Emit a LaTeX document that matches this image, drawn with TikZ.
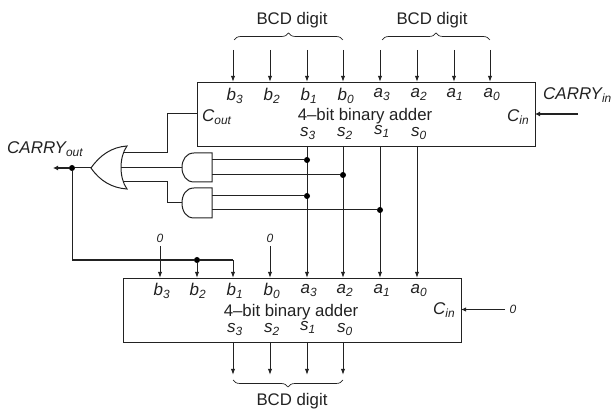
\documentclass[tikz,border=0pt]{standalone}
\usepackage{fontspec}
\setmainfont{Liberation Sans}
\usetikzlibrary{arrows.meta,decorations.pathreplacing}
\definecolor{ink}{HTML}{222222}
\tikzset{
  wire/.style={draw=ink,line width=1pt},
  heavy/.style={draw=ink,line width=1pt},
  sig/.style={wire,-{Latex[length=6pt,width=4.2pt]}},
  hsig/.style={draw=ink,line width=2.2pt,-{Latex[length=5pt,width=5pt]}},
  adder/.style={draw=ink,line width=1pt,rectangle,inner sep=0pt,anchor=north west,minimum width=338pt,minimum height=64pt},
  gate/.style={draw=ink,line width=1pt,fill=white},
  dot/.style={circle,fill=black,inner sep=0pt,minimum size=6pt},
  txt/.style={inner sep=0pt,anchor=base,text=ink,font=\fontsize{16.8}{17}\selectfont},
  pin/.style={inner sep=0pt,anchor=base,text=ink,font=\fontsize{17}{17}\selectfont\itshape},
  zero/.style={inner sep=0pt,text=ink,font=\fontsize{12}{12}\selectfont\itshape},
  lbl/.style={inner sep=0pt,anchor=base west,text=ink,font=\fontsize{17}{17}\selectfont\itshape},
  bracetop/.style={draw=ink,line width=0.7pt,decorate,decoration={brace,amplitude=7pt}},
}
\newcommand{\sbs}[2]{#1$\mathsurround=0pt{}_{\mathit{#2}}$}
\begin{document}
\begin{tikzpicture}[x=1pt,y=-1pt]
\useasboundingbox (0,0) rectangle (611,411);
\node[adder] (top) at (197,82) {};
\node[adder] (bot) at (123,278) {};

% top inputs
\foreach \n/\x in {tb3/233,tb2/270,tb1/307,tb0/343,ta3/380,ta2/417,ta1/454,ta0/490}{
  \coordinate (\n s) at (\x,50);
  \coordinate (\n e) at (\x,82);
  \draw[sig] (\n s) -- (\n e);
}
% bottom inputs
\coordinate (bb3e) at (160,278);
\coordinate (bb2e) at (197,278);
\coordinate (bb1e) at (233,278);
\coordinate (bb0e) at (270,278);
\coordinate (ba3e) at (307,278);
\coordinate (ba2e) at (343,278);
\coordinate (ba1e) at (380,278);
\coordinate (ba0e) at (417,278);
% top outputs
\coordinate (ts3) at (307,146);
\coordinate (ts2) at (343,146);
\coordinate (ts1) at (380,146);
\coordinate (ts0) at (417,146);
\draw[sig] (ts3) -- (ba3e);
\draw[sig] (ts2) -- (ba2e);
\draw[sig] (ts1) -- (ba1e);
\draw[sig] (ts0) -- (ba0e);
% bottom outputs
\foreach \n/\x in {bs3/233,bs2/270,bs1/307,bs0/343}{
  \coordinate (\n a) at (\x,342);
  \coordinate (\n b) at (\x,375);
  \draw[sig] (\n a) -- (\n b);
}
% zero inputs
\node[zero] (z3) at (160,238) {0};
\node[zero] (z0) at (270,238) {0};
\draw[sig] (z3) ++(0,8) -- (bb3e);
\draw[sig] (z0) ++(0,8) -- (bb0e);

% AND gates
\draw[gate] (212,153) -- (194,153) .. controls (186,153) and (182,160) .. (182,167.5)
  .. controls (182,175) and (186,182) .. (194,182) -- (212,182) -- cycle;
\draw[gate] (212,188) -- (194,188) .. controls (186,188) and (182,195) .. (182,203)
  .. controls (182,211) and (186,218) .. (194,218) -- (212,218) -- cycle;
\coordinate (a1i1) at (212,160);
\coordinate (a1i2) at (212,175);
\coordinate (a2i1) at (212,196);
\coordinate (a2i2) at (212,210);
\coordinate (a1o) at (182,168);
\coordinate (a2o) at (182,203);
% OR gate
\draw[gate] (127,146) .. controls (119,157) and (119,178) .. (127,189)
  .. controls (112,188) and (100,181) .. (91,168)
  .. controls (100,155) and (112,147) .. (127,146) -- cycle;
\coordinate (oi1) at (124,153);
\coordinate (oi2) at (121,168);
\coordinate (oi3) at (124,182);
\coordinate (oo) at (91,168);

\node[dot] (d1) at (307,160) {};
\node[dot] (d2) at (343,175) {};
\node[dot] (d3) at (307,196) {};
\node[dot] (d4) at (380,210) {};
\node[dot] (d5) at (72,168) {};
\node[dot] (d6) at (197,260) {};

\draw[wire] (a1i1) -- (d1);
\draw[wire] (a1i2) -- (d2);
\draw[wire] (a2i1) -- (d3);
\draw[wire] (a2i2) -- (d4);
\draw[heavy] (a1o) -- (oi2);
\draw[heavy] (a2o) -- (167,203) -- (167,182) -- (oi3);
\coordinate (cout) at (197,114);
\draw[heavy] (cout) -- (167,114) -- (167,153) -- (oi1);

% carry out
\coordinate (coutend) at (53,168);
\draw[heavy] (oo) -- (d5);
\draw[hsig] (d5) -- (coutend);
\draw[wire] (d5) -- (72,260);
\draw[draw=ink,line width=1.5pt] (72,260) -- (d6);
\draw[draw=ink,line width=1.5pt] (d6) -- (233,260);
\draw[sig] (233,260) -- (bb1e);
\draw[sig] (d6) -- (bb2e);

% carry in
\coordinate (cin) at (535,114);
\coordinate (cins) at (578,114);
\draw[hsig] (cins) -- (cin);
\node[zero] (z9) at (513,309) {0};
\coordinate (bcin) at (461,309.5);
\draw[draw=ink,line width=1.3pt,-{Latex[length=5pt,width=4.5pt]}] (505,309.5) -- (bcin);

% braces
\coordinate (br1a) at (234,40); \coordinate (br1b) at (343,40);
\coordinate (br2a) at (382,40); \coordinate (br2b) at (490,40);
\coordinate (br3a) at (343,380); \coordinate (br3b) at (233,380);
\draw[bracetop] (br1a) -- (br1b);
\draw[bracetop] (br2a) -- (br2b);
\draw[bracetop] (br3a) -- (br3b);
\node[txt] (t1) at (292,25) {BCD digit};
\node[txt] (t2) at (432,25) {BCD digit};
\node[txt] (t3) at (292,406) {BCD digit};

% top labels
\foreach \n/\l/\s/\x in {l1/b/3/235,l2/b/2/272,l3/b/1/309,l4/b/0/346}
  \node[pin] (\n) at (\x,101) {\sbs{\l}{\s}};
\foreach \n/\l/\s/\x in {l5/a/3/382,l6/a/2/419,l7/a/1/455,l8/a/0/492}
  \node[pin] (\n) at (\x,98) {\sbs{\l}{\s}};
\foreach \n/\l/\s/\x/\y in {l9/s/3/308/137,l10/s/2/345/137,l11/s/1/382/135,l12/s/0/419/137}
  \node[pin] (\n) at (\x,\y) {\sbs{\l}{\s}};
\node[txt] (n1) at (365,121) {4–bit binary adder};
\node[lbl] (c1) at (202,122) {\sbs{C}{out}};
\node[lbl] (c2) at (507,122) {\sbs{C}{in}};
\node[lbl] (c3) at (543,100) {\sbs{CARRY}{in}};
\node[lbl] (c4) at (7,154) {\sbs{CARRY}{out}};

% bottom labels
\foreach \n/\l/\s/\x in {m1/b/3/162,m2/b/2/198,m3/b/1/235,m4/b/0/272}
  \node[pin] (\n) at (\x,296) {\sbs{\l}{\s}};
\foreach \n/\l/\s/\x in {m5/a/3/309,m6/a/2/345,m7/a/1/382,m8/a/0/419}
  \node[pin] (\n) at (\x,294) {\sbs{\l}{\s}};
\foreach \n/\l/\s/\x/\y in {m9/s/3/235/333,m10/s/2/272/333,m11/s/1/308/331,m12/s/0/345/333}
  \node[pin] (\n) at (\x,\y) {\sbs{\l}{\s}};
\node[txt] (n2) at (291,317) {4–bit binary adder};
\node[lbl] (c5) at (433,315) {\sbs{C}{in}};
\end{tikzpicture}
\end{document}
